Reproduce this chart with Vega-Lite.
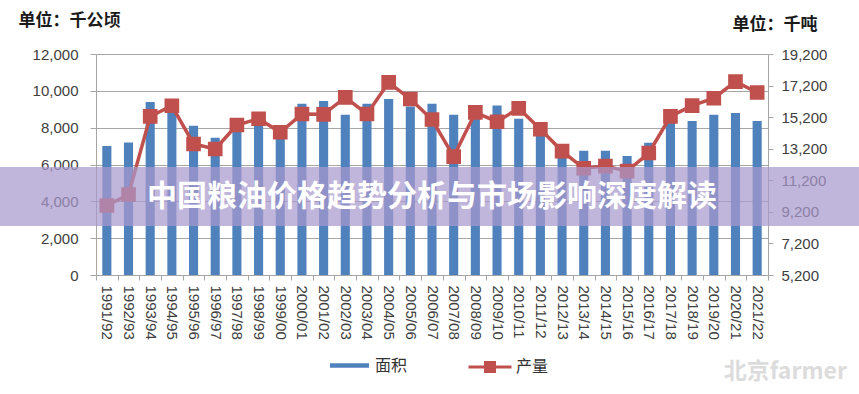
{
  "$schema": "https://vega.github.io/schema/vega-lite/v6.json",
  "width": 672,
  "height": 221,
  "autosize": {"type": "none"},
  "padding": {"left": 96, "top": 54, "right": 91, "bottom": 119},
  "background": "white",
  "config": {"view": {"stroke": null}, "font": "Liberation Sans"},
  "title": {
    "text": "北京farmer",
    "orient": "bottom",
    "anchor": "end",
    "frame": "group",
    "offset": 0,
    "dx": 79,
    "dy": -17,
    "font": "Noto Sans CJK SC",
    "fontSize": 23,
    "fontWeight": "bold",
    "color": "#dcdcdc"
  },
  "layer": [
    {
      "data": {
        "values": [
          {"year": "1991/92", "area": 7000, "output": 9600},
          {"year": "1992/93", "area": 7200, "output": 10300},
          {"year": "1993/94", "area": 9400, "output": 15250},
          {"year": "1994/95", "area": 9100, "output": 15920},
          {"year": "1995/96", "area": 8100, "output": 13500},
          {"year": "1996/97", "area": 7450, "output": 13180},
          {"year": "1997/98", "area": 8000, "output": 14700},
          {"year": "1998/99", "area": 8150, "output": 15100},
          {"year": "1999/00", "area": 7500, "output": 14240},
          {"year": "2000/01", "area": 9300, "output": 15400},
          {"year": "2001/02", "area": 9450, "output": 15380},
          {"year": "2002/03", "area": 8700, "output": 16450},
          {"year": "2003/04", "area": 9300, "output": 15400},
          {"year": "2004/05", "area": 9550, "output": 17400},
          {"year": "2005/06", "area": 9150, "output": 16350},
          {"year": "2006/07", "area": 9300, "output": 15050},
          {"year": "2007/08", "area": 8700, "output": 12700},
          {"year": "2008/09", "area": 8800, "output": 15500},
          {"year": "2009/10", "area": 9200, "output": 14910},
          {"year": "2010/11", "area": 8480, "output": 15760},
          {"year": "2011/12", "area": 7750, "output": 14430},
          {"year": "2012/13", "area": 7100, "output": 13050},
          {"year": "2013/14", "area": 6750, "output": 11960},
          {"year": "2014/15", "area": 6750, "output": 12100},
          {"year": "2015/16", "area": 6460, "output": 11780},
          {"year": "2016/17", "area": 7180, "output": 12930},
          {"year": "2017/18", "area": 8300, "output": 15250},
          {"year": "2018/19", "area": 8360, "output": 15930},
          {"year": "2019/20", "area": 8700, "output": 16400},
          {"year": "2020/21", "area": 8800, "output": 17450},
          {"year": "2021/22", "area": 8360, "output": 16760}
        ]
      },
      "encoding": {
        "x": {
          "field": "year",
          "type": "nominal",
          "sort": null,
          "scale": {"paddingInner": 0, "paddingOuter": 0},
          "axis": {
            "title": null,
            "labelAngle": 90,
            "labelAlign": "left",
            "labelBaseline": "middle",
            "labelFontSize": 15,
            "labelColor": "#404040",
            "labelPadding": 5,
            "tickBand": "extent",
            "tickSize": 5,
            "tickColor": "#A6A6A6",
            "domainColor": "#A6A6A6",
            "grid": false
          }
        }
      },
      "layer": [
        {
          "mark": {"type": "bar", "width": {"band": 0.42}, "fill": "#4F81BD"},
          "encoding": {
            "y": {
              "field": "area",
              "type": "quantitative",
              "scale": {"domain": [0, 12000], "nice": false},
              "axis": {
                "values": [0, 2000, 4000, 6000, 8000, 10000, 12000],
                "format": ",d",
                "grid": true,
                "gridColor": "#A6A6A6",
                "domainColor": "#A6A6A6",
                "tickColor": "#A6A6A6",
                "tickSize": 6,
                "labelPadding": 12,
                "labelFontSize": 15,
                "labelColor": "#404040",
                "title": "单位：千公顷",
                "titleAngle": 0,
                "titleAlign": "left",
                "titleBaseline": "middle",
                "titleX": -78,
                "titleY": -34,
                "titleFont": "Noto Sans CJK SC",
                "titleFontSize": 17,
                "titleFontWeight": "bold",
                "titleColor": "#1a1a1a"
              }
            },
            "fill": {
              "datum": "面积",
              "scale": {"range": ["#4F81BD"]},
              "legend": {
                "title": null,
                "orient": "none",
                "legendX": 234,
                "legendY": 292,
                "symbolType": "M-1,-0.12H1V0.12H-1Z",
                "symbolSize": 1521,
                "symbolStrokeWidth": 0,
                "labelFont": "Noto Sans CJK SC",
                "labelFontSize": 16,
                "labelColor": "#333333",
                "labelOffset": 6
              }
            }
          }
        },
        {
          "mark": {
            "type": "line",
            "strokeWidth": 3.5,
            "point": {"shape": "square", "size": 160, "filled": true, "fill": "#C0504D", "opacity": 1}
          },
          "encoding": {
            "y": {
              "field": "output",
              "type": "quantitative",
              "scale": {"domain": [5200, 19200], "nice": false, "zero": false},
              "axis": {
                "orient": "right",
                "values": [5200, 7200, 9200, 11200, 13200, 15200, 17200, 19200],
                "format": ",d",
                "grid": false,
                "domainColor": "#A6A6A6",
                "tickColor": "#A6A6A6",
                "tickSize": 5,
                "labelPadding": 8,
                "labelFontSize": 15,
                "labelColor": "#404040",
                "title": "单位：千吨",
                "titleAngle": 0,
                "titleAlign": "left",
                "titleBaseline": "middle",
                "titleX": -36,
                "titleY": -30,
                "titleFont": "Noto Sans CJK SC",
                "titleFontSize": 17,
                "titleFontWeight": "bold",
                "titleColor": "#1a1a1a"
              }
            },
            "stroke": {
              "datum": "产量",
              "scale": {"range": ["#C0504D"]},
              "legend": {
                "title": null,
                "orient": "none",
                "legendX": 371,
                "legendY": 290,
                "symbolType": "M-1,0H1M-0.21,-0.21H0.21V0.21H-0.21Z",
                "symbolSize": 1849,
                "symbolStrokeWidth": 3,
                "symbolFillColor": "#C0504D",
                "labelFont": "Noto Sans CJK SC",
                "labelFontSize": 16,
                "labelColor": "#333333",
                "labelOffset": 3
              }
            }
          }
        }
      ],
      "resolve": {"scale": {"y": "independent", "fill": "independent", "stroke": "independent"}}
    },
    {
      "data": {"values": [{"label": "中国粮油价格趋势分析与市场影响深度解读"}]},
      "layer": [
        {
          "mark": {"type": "rect", "clip": false, "fill": "#A898CC", "opacity": 0.72},
          "encoding": {
            "x": {"datum": -0.1429, "type": "quantitative", "scale": {"domain": [0, 1], "nice": false, "zero": false}, "axis": null},
            "x2": {"datum": 1.1354},
            "y": {"datum": 0.4887, "type": "quantitative", "scale": {"domain": [0, 1], "nice": false, "zero": false}, "axis": null},
            "y2": {"datum": 0.2217}
          }
        },
        {
          "mark": {"type": "text", "clip": false, "font": "Noto Sans CJK SC", "fontWeight": "bold", "fontSize": 30, "fill": "white", "align": "center", "baseline": "middle"},
          "encoding": {
            "x": {"datum": 0.5, "type": "quantitative"},
            "y": {"datum": 0.353, "type": "quantitative"},
            "text": {"field": "label"}
          }
        }
      ]
    }
  ],
  "resolve": {"scale": {"x": "independent", "y": "independent"}}
}
